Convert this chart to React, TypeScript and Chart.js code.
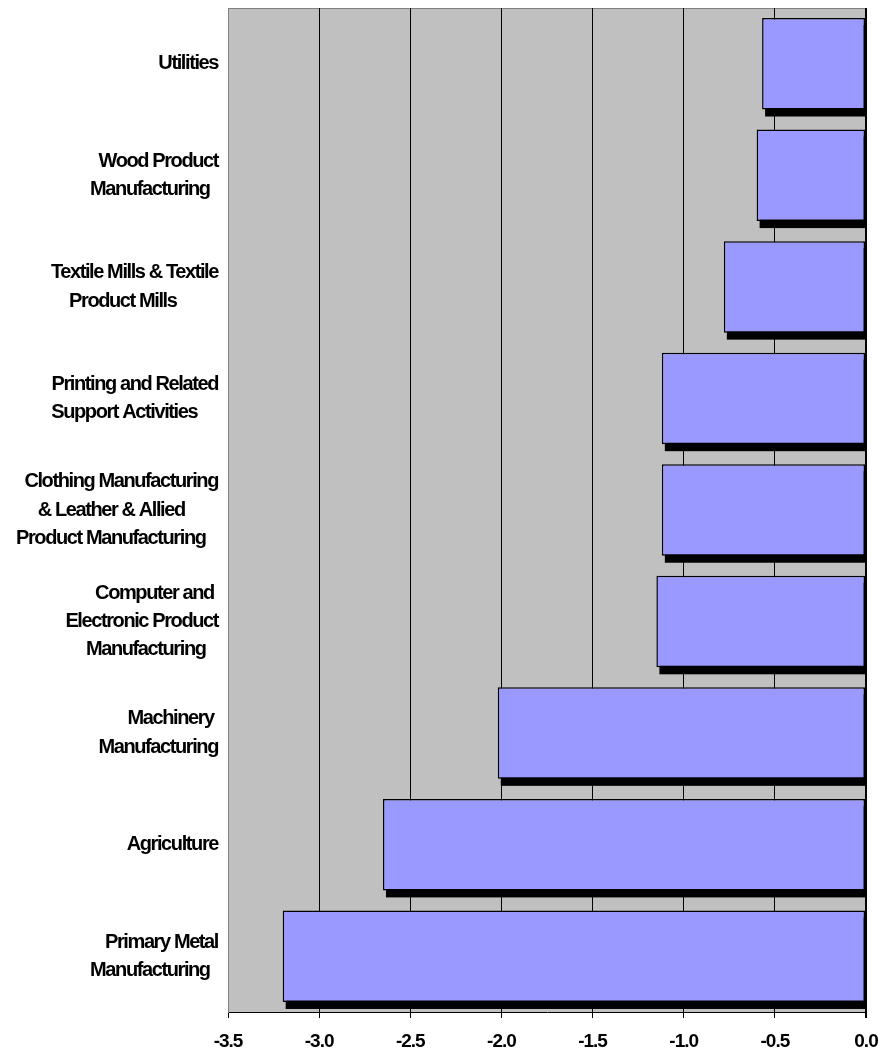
import React, { useEffect, useRef } from "react";
import { Chart, registerables } from "chart.js";

Chart.register(...registerables);

// Category labels (multi-line; trailing spaces mimic the original centred wrapping)
const categories: string[][] = [
  ["Utilities"],
  ["Wood Product", "Manufacturing  "],
  ["Textile Mills & Textile", "Product Mills          "],
  ["Printing and Related", "Support Activities     "],
  ["Clothing Manufacturing", "& Leather & Allied        ", "Product Manufacturing   "],
  ["Computer and ", "Electronic Product", "Manufacturing   "],
  ["Machinery ", "Manufacturing"],
  ["Agriculture"],
  ["Primary Metal", "Manufacturing  "],
];

const values: number[] = [-0.57, -0.6, -0.78, -1.12, -1.12, -1.15, -2.02, -2.65, -3.2];

const xMin = -3.5;
const xMax = 0;
const xStep = 0.5;

const FONT = "'Liberation Sans', Arial, sans-serif";

const plotPlugin = {
  id: "plotDecor",
  beforeDraw(chart: any) {
    const { ctx, chartArea } = chart;
    ctx.save();
    ctx.fillStyle = "#C0C0C0";
    ctx.fillRect(chartArea.left, chartArea.top, chartArea.right - chartArea.left, chartArea.bottom - chartArea.top);
    ctx.strokeStyle = "#808080";
    ctx.lineWidth = 1;
    ctx.beginPath();
    ctx.moveTo(chartArea.left, chartArea.top + 0.5);
    ctx.lineTo(chartArea.right, chartArea.top + 0.5);
    ctx.stroke();
    ctx.restore();
    (ctx as any).letterSpacing = "-1.4px";
  },
  beforeDatasetsDraw(chart: any) {
    const { ctx, chartArea } = chart;
    const meta = chart.getDatasetMeta(0);
    ctx.save();
    ctx.beginPath();
    ctx.rect(chartArea.left, chartArea.top, chartArea.right - chartArea.left, chartArea.bottom - chartArea.top);
    ctx.clip();
    ctx.fillStyle = "#000";
    meta.data.forEach((bar: any) => {
      const p = bar.getProps(["x", "y", "base", "height"], true);
      const l = Math.min(p.x, p.base);
      const r = Math.max(p.x, p.base);
      ctx.fillRect(l + 3, p.y - p.height / 2 + 7, r - l, p.height);
    });
    ctx.restore();
  },
  afterDatasetsDraw(chart: any) {
    (chart.ctx as any).letterSpacing = "-1px";
  },
};

export default function App() {
  const ref = useRef<HTMLCanvasElement | null>(null);

  useEffect(() => {
    document.body.style.margin = "0";
    if (!ref.current) return;
    const chart = new Chart(ref.current, {
      type: "bar",
      data: {
        labels: categories as any,
        datasets: [
          {
            data: values,
            backgroundColor: "#9999FF",
            borderColor: "#000000",
            borderWidth: 1.5,
            borderSkipped: false,
            categoryPercentage: 1,
            barPercentage: 0.82,
          },
        ],
      },
      options: {
        indexAxis: "y",
        animation: false,
        responsive: true,
        maintainAspectRatio: false,
        layout: { padding: { top: 8, right: 16, bottom: 0, left: 0 } },
        plugins: { legend: { display: false }, tooltip: { enabled: false } },
        scales: {
          x: {
            type: "linear",
            min: xMin,
            max: xMax,
            afterFit: (s: any) => {
              s.height = 44;
              s.paddingLeft = 0;
              s.paddingRight = 0;
            },
            ticks: {
              stepSize: xStep,
              z: 1,
              padding: 12,
              color: "#000",
              font: { family: FONT, size: 19, weight: "bold" },
              callback: (v: any) => Number(v).toFixed(1),
            },
            grid: {
              color: (c: any) => (c.index === 0 ? "#808080" : "#000000"),
              lineWidth: (c: any) => (c.tick && c.tick.value === 0 ? 2 : 1),
              tickLength: 6,
              tickColor: "#000000",
            },
            border: { color: "#000000", width: 1 },
          },
          y: {
            type: "category",
            afterFit: (s: any) => {
              s.width = 228;
              s.paddingTop = 0;
              s.paddingBottom = 0;
            },
            ticks: {
              color: "#000",
              padding: 10,
              font: { family: FONT, size: 20, weight: "bold", lineHeight: 1.42 },
            },
            grid: { color: "rgba(0,0,0,0)", drawTicks: false },
            border: { color: "#808080", width: 1 },
          },
        },
      },
      plugins: [plotPlugin],
    });
    return () => chart.destroy();
  }, []);

  return (
    <div style={{ width: 882, height: 1056, position: "relative" }}>
      <canvas ref={ref} />
    </div>
  );
}
